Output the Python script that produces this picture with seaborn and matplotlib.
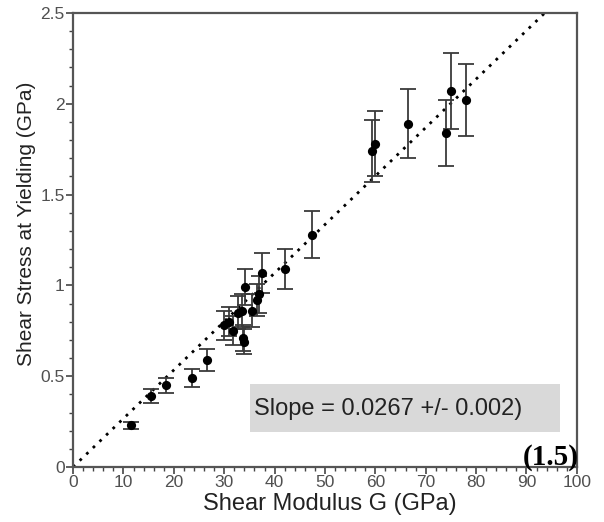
import matplotlib
matplotlib.use("Agg")
import matplotlib.pyplot as plt
import seaborn as sns
import pandas as pd
from matplotlib.ticker import MultipleLocator
from matplotlib.patches import Rectangle

# ---- data ----
shear_modulus = [11.5, 15.5, 18.5, 23.6, 26.6, 30.0, 31.0, 31.7, 32.7, 33.5,
                 33.7, 33.9, 34.1, 35.5, 36.5, 37.0, 37.5, 42.0, 47.4, 59.3,
                 59.9, 66.5, 74.0, 75.0, 78.0]
shear_stress = [0.23, 0.39, 0.45, 0.49, 0.59, 0.78, 0.80, 0.75, 0.85, 0.86,
                0.71, 0.69, 0.99, 0.86, 0.92, 0.95, 1.07, 1.09, 1.28, 1.74,
                1.78, 1.89, 1.84, 2.07, 2.02]
stress_err = [0.02, 0.04, 0.04, 0.05, 0.06, 0.08, 0.08, 0.08, 0.09, 0.09,
              0.07, 0.07, 0.10, 0.09, 0.09, 0.10, 0.11, 0.11, 0.13, 0.17,
              0.18, 0.19, 0.18, 0.21, 0.20]
fit_x = [0.0, 100.0]
fit_y = [0.0, 2.67]
slope_text = "Slope = 0.0267 +/- 0.002)"
eq_label = "(1.5)"
x_ticks = [0, 10, 20, 30, 40, 50, 60, 70, 80, 90, 100]
y_ticks = [0, 0.5, 1, 1.5, 2, 2.5]
y_tick_labels = ["0", "0.5", "1", "1.5", "2", "2.5"]

df = pd.DataFrame({"G": shear_modulus, "tau": shear_stress, "err": stress_err})
fit = pd.DataFrame({"x": fit_x, "y": fit_y})

sns.set_style("white")
plt.rcParams["font.family"] = ["Liberation Sans", "DejaVu Sans"]

fig = plt.figure(figsize=(6.04, 5.22), dpi=100)
ax = fig.add_axes([0.121, 0.1054, 0.834, 0.8697])

# fit line (dotted)
sns.lineplot(data=fit, x="x", y="y", ax=ax, color="black", linewidth=2.0,
             linestyle=(0, (1, 2.3)), zorder=2)

# error bars
ax.errorbar(df["G"], df["tau"], yerr=df["err"], fmt="none", ecolor="#3a3a3a",
            elinewidth=1.3, capsize=5.5, capthick=1.3, zorder=3)

# points
sns.scatterplot(data=df, x="G", y="tau", ax=ax, color="black", s=44,
                edgecolor="black", linewidth=0, zorder=4)

ax.set_xlim(0, 100)
ax.set_ylim(0, 2.5)
ax.set_xticks(x_ticks)
ax.set_yticks(y_ticks)
ax.set_yticklabels(y_tick_labels)
ax.xaxis.set_minor_locator(MultipleLocator(2))
ax.yaxis.set_minor_locator(MultipleLocator(0.1))
ax.tick_params(which="major", direction="out", length=5, width=1.2,
               color="#444444", labelcolor="#505050", labelsize=12.5, pad=1,
               bottom=True, left=True)
ax.tick_params(which="minor", direction="out", length=3, width=1.0,
               color="#444444", bottom=True, left=True)

for s in ax.spines.values():
    s.set_color("#555555")
    s.set_linewidth(1.6)
    s.set_visible(True)

ax.set_xlabel("Shear Modulus G (GPa)", fontsize=17, color="#222222")
ax.set_ylabel("Shear Stress at Yielding (GPa)", fontsize=15, color="#222222")
ax.xaxis.set_label_coords(0.51, -0.058)
ax.yaxis.set_label_coords(-0.073, 0.535)

# slope annotation box
ax.add_patch(Rectangle((35.2, 0.19), 61.4, 0.265, facecolor="#d9d9d9",
                       edgecolor="none", zorder=1))
ax.text(36.0, 0.32, slope_text, fontsize=17, color="#222222",
        va="center", ha="left", zorder=5)
ax.text(100.4, 0.012, eq_label, fontsize=21, fontweight="bold",
        family=["Liberation Serif", "DejaVu Serif"], ha="right", va="baseline",
        color="black", zorder=5)

fig.savefig("out.png", dpi=100)
